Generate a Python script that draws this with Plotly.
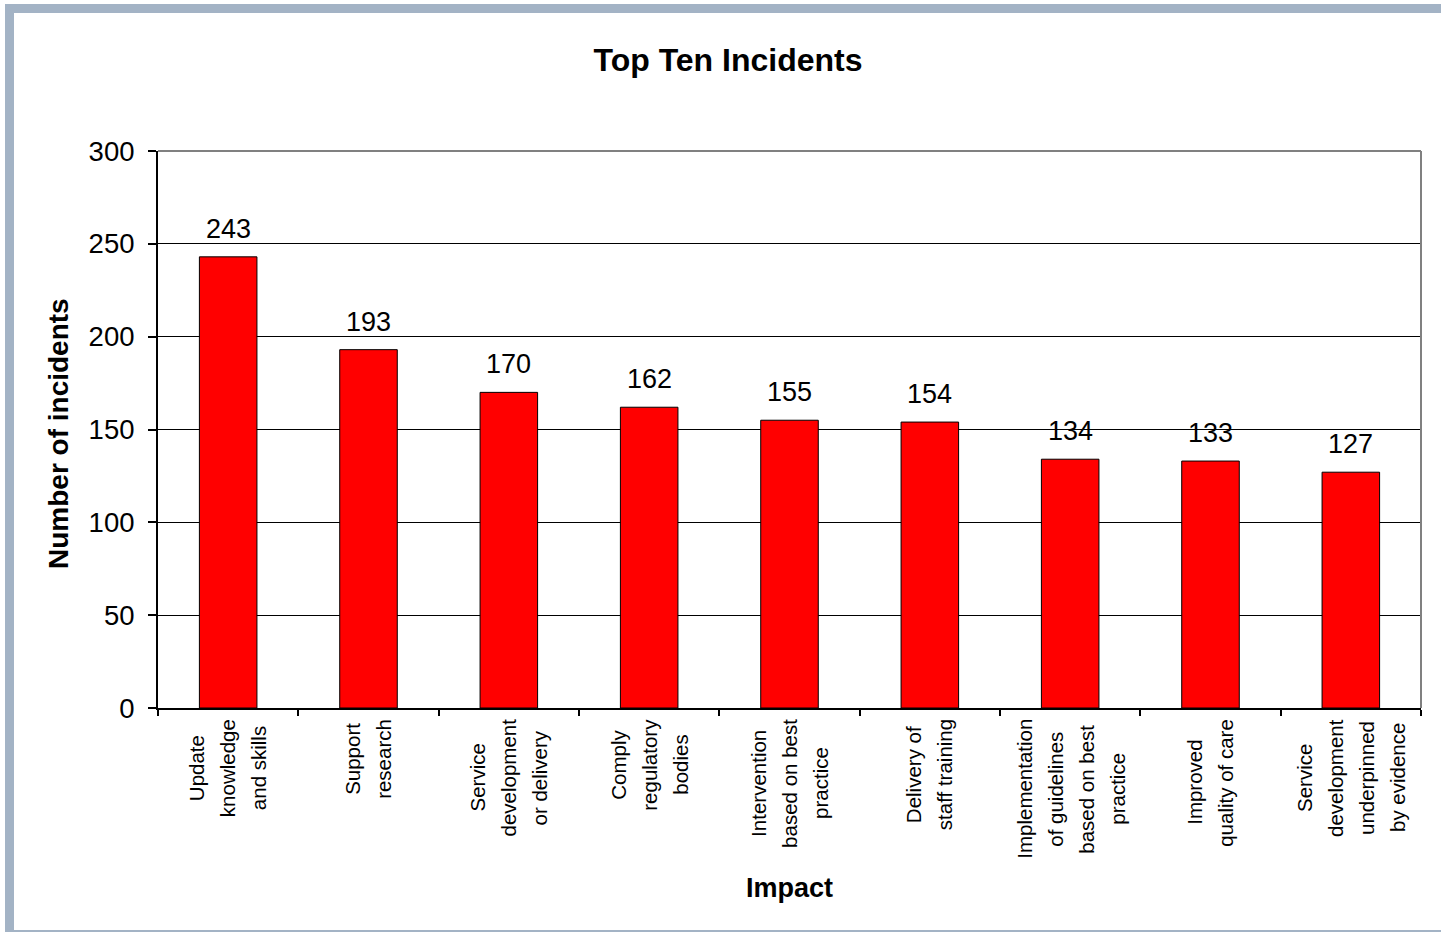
import plotly.graph_objects as go

categories = [
    "Update knowledge and skills",
    "Support research",
    "Service development or delivery",
    "Comply regulatory bodies",
    "Intervention based on best practice",
    "Delivery of staff training",
    "Implementation of guidelines based on best practice",
    "Improved quality of care",
    "Service development underpinned by evidence",
]
label_lines = [
    ["Update", "knowledge", "and skills"],
    ["Support", "research"],
    ["Service", "development", "or delivery"],
    ["Comply", "regulatory", "bodies"],
    ["Intervention", "based on best", "practice"],
    ["Delivery of", "staff training"],
    ["Implementation", "of guidelines", "based on best", "practice"],
    ["Improved", "quality of care"],
    ["Service", "development", "underpinned", "by evidence"],
]
values = [243, 193, 170, 162, 155, 154, 134, 133, 127]
y_ticks = [0, 50, 100, 150, 200, 250, 300]

W, H = 1441, 933
L, R, T, B = 158, 20, 151, 225
PW, PH = W - L - R, H - T - B
FONT = "Liberation Sans, Arial, sans-serif"


def px_x(px):
    return (px - L) / PW


def px_y(py):
    return (H - B - py) / PH


# approximate Arial advance widths (em)
_w = {c: 0.556 for c in "abdeghnopqu"}
_w.update({"c": 0.5, "k": 0.5, "s": 0.5, "v": 0.5, "x": 0.5, "y": 0.5, "z": 0.5,
           "f": 0.278, "t": 0.278, "i": 0.222, "j": 0.222, "l": 0.222, "r": 0.333,
           "m": 0.833, "w": 0.722, " ": 0.278, "I": 0.278, "S": 0.667, "U": 0.722,
           "C": 0.722, "D": 0.722})


def text_len(s, size):
    return sum(_w.get(ch, 0.667) for ch in s) * size


fig = go.Figure()
fig.add_trace(go.Bar(
    x=categories, y=values,
    marker=dict(color="#FF0000", line=dict(color="#000000", width=1)),
    width=0.41, hoverinfo="x+y",
))

annotations = []
# value labels
for c, v in zip(categories, values):
    annotations.append(dict(x=c, y=v, xref="x", yref="y", text=str(v), showarrow=False,
                            yanchor="bottom", yshift=11,
                            font=dict(family=FONT, size=27, color="#000000")))
# category labels (rotated, centred lines)
LAB_SIZE = 20.5
LINE_SP = 31
TOP_PX = 719
for c, lines in zip(categories, label_lines):
    maxlen = max(text_len(s, LAB_SIZE) for s in lines)
    cy = TOP_PX + maxlen / 2
    n = len(lines)
    for i, s in enumerate(lines):
        annotations.append(dict(x=c, y=px_y(cy), xref="x", yref="paper", text=s,
                                showarrow=False, textangle=-90, xanchor="center",
                                yanchor="middle", xshift=(i - (n - 1) / 2) * LINE_SP,
                                font=dict(family=FONT, size=LAB_SIZE, color="#000000")))
# axis titles
annotations.append(dict(x=0.5, y=px_y(888), xref="paper", yref="paper", text="<b>Impact</b>",
                        showarrow=False, xanchor="center", yanchor="middle",
                        font=dict(family=FONT, size=27, color="#000000")))
annotations.append(dict(x=px_x(58), y=px_y(434), xref="paper", yref="paper",
                        text="<b>Number of incidents</b>", showarrow=False, textangle=-90,
                        xanchor="center", yanchor="middle",
                        font=dict(family=FONT, size=28, color="#000000")))

BORDER = "#A3B3C5"
shapes = [
    # figure frame
    dict(type="rect", xref="paper", yref="paper", x0=px_x(5), x1=px_x(14), y0=px_y(932), y1=px_y(4),
         fillcolor=BORDER, line=dict(width=0), layer="above"),
    dict(type="rect", xref="paper", yref="paper", x0=px_x(5), x1=px_x(1441), y0=px_y(13), y1=px_y(4),
         fillcolor=BORDER, line=dict(width=0), layer="above"),
    dict(type="rect", xref="paper", yref="paper", x0=px_x(5), x1=px_x(1441), y0=px_y(932), y1=px_y(930),
         fillcolor=BORDER, line=dict(width=0), layer="above"),
    # plot area top and right borders
    dict(type="line", xref="paper", yref="paper", x0=0, x1=1, y0=1, y1=1,
         line=dict(color="#808080", width=2), layer="above"),
    dict(type="line", xref="paper", yref="paper", x0=1, x1=1, y0=0, y1=1,
         line=dict(color="#808080", width=2), layer="above"),
]

fig.update_layout(
    width=W, height=H,
    margin=dict(l=L, r=R, t=T, b=B, autoexpand=False),
    paper_bgcolor="#FFFFFF", plot_bgcolor="#FFFFFF",
    showlegend=False,
    bargap=0.59,
    title=dict(text="<b>Top Ten Incidents</b>", x=728 / W, xanchor="center",
               y=1 - 60 / H, yanchor="middle", yref="container",
               font=dict(family=FONT, size=32, color="#000000")),
    font=dict(family=FONT, color="#000000"),
    annotations=annotations,
    shapes=shapes,
    xaxis=dict(
        type="category", showticklabels=False, ticks="outside", tickson="boundaries",
        ticklen=6, tickwidth=1.5, tickcolor="#000000", showline=True, linecolor="#000000",
        linewidth=2, showgrid=False, zeroline=False, fixedrange=True,
    ),
    yaxis=dict(
        range=[0, 300], tickvals=y_ticks, ticktext=[str(t) for t in y_ticks],
        ticks="outside", ticklen=8, tickwidth=1.5, tickcolor="#000000",
        showline=True, linecolor="#000000", linewidth=2,
        showgrid=True, gridcolor="#000000", gridwidth=1.3, zeroline=False,
        tickfont=dict(family=FONT, size=27.5, color="#000000"),
        ticklabelstandoff=8, fixedrange=True,
    ),
)

fig.write_html("out.html")
